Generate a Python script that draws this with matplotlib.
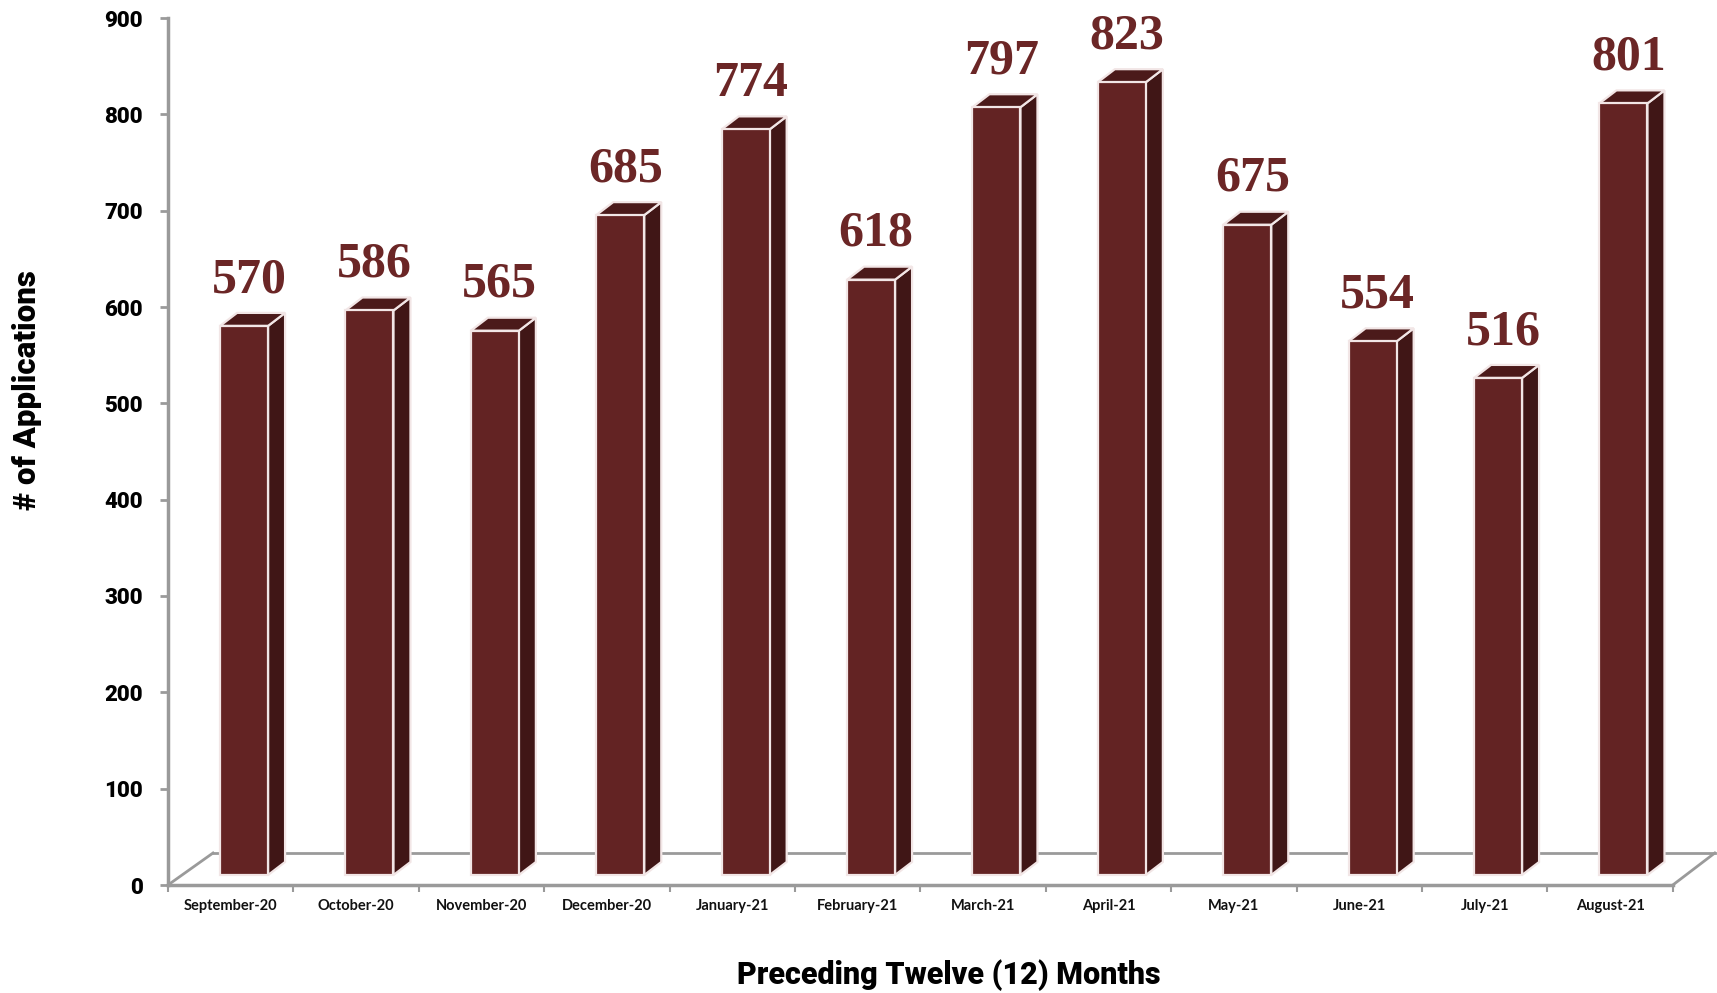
import numpy as np
import matplotlib
matplotlib.use("Agg")
import matplotlib.pyplot as plt
from matplotlib.patches import Polygon

months = ['September-20', 'October-20', 'November-20', 'December-20', 'January-21',
          'February-21', 'March-21', 'April-21', 'May-21', 'June-21', 'July-21', 'August-21']
applications = [570, 586, 565, 685, 774, 618, 797, 823, 675, 554, 516, 801]
yticks = [0, 100, 200, 300, 400, 500, 600, 700, 800, 900]

front_col = '#632323'
top_col = '#4b1a1a'
side_col = '#401616'
label_col = '#6b2626'
axis_col = '#9a9a9a'

W, H = 1717, 993
fig = plt.figure(figsize=(W / 100, H / 100), dpi=100)
# axes: x=0 at front-left floor corner (px 168), y=0 at px 885, y=900 at px 18
ax = fig.add_axes([168 / W, (H - 885) / H, (W - 168) / W, (885 - 18) / H])
cat_px = 125.4
ax.set_xlim(0, (W - 168) / cat_px)
ax.set_ylim(0, 900)
px_x = 1 / cat_px          # one pixel in x data units
px_y = 900 / (885 - 18)    # one pixel in y data units

# floor depth, bar offset inside the depth, bar depth
floor_dx, floor_dy = 45 * px_x, 32 * px_y
off_x, off_y = 0.415, 10 * px_y
bar_w = 0.383
bdx, bdy = 17 * px_x, 13 * px_y

n = len(months)
# floor (back wall line and diagonals)
ax.plot([floor_dx, n + 42 * px_x], [floor_dy, floor_dy], color=axis_col, lw=2, zorder=1, clip_on=False)
ax.plot([0, floor_dx], [0, floor_dy], color=axis_col, lw=2, zorder=1, clip_on=False)
ax.plot([n, n + 42 * px_x], [0, floor_dy], color=axis_col, lw=2, zorder=1, clip_on=False)
ax.plot([0, n], [0, 0], color=axis_col, lw=2.5, zorder=1, clip_on=False)
ax.plot([0, 0], [0, 900], color=axis_col, lw=2.5, zorder=1, clip_on=False)

edge = dict(edgecolor='#f2e6e6', linewidth=1.6, joinstyle='miter')
for i, v in enumerate(applications):
    x0 = i + off_x
    x1 = x0 + bar_w
    y0 = off_y
    y1 = off_y + v
    ax.bar(x0, v, width=bar_w, bottom=y0, align='edge', color=front_col, zorder=3, **edge)
    side = Polygon([(x1, y0), (x1 + bdx, y0 + bdy), (x1 + bdx, y1 + bdy), (x1, y1)],
                   closed=True, facecolor=side_col, zorder=2, **edge)
    top = Polygon([(x0, y1), (x1, y1), (x1 + bdx, y1 + bdy), (x0 + bdx, y1 + bdy)],
                  closed=True, facecolor=top_col, zorder=2, **edge)
    ax.add_patch(side)
    ax.add_patch(top)
    ax.annotate(str(v), xy=(x0 + bar_w / 2 + 5 * px_x, y1 + bdy), xytext=(0, 15),
                textcoords='offset points', ha='center', va='baseline',
                fontsize=36, fontweight='bold', family='Liberation Serif',
                color=label_col, annotation_clip=False)

for s in ax.spines.values():
    s.set_visible(False)

cond = dict(family='Roboto', fontweight=900)
ax.set_yticks(yticks)
ax.set_yticklabels([str(t) for t in yticks], fontsize=16, **cond)
ax.tick_params(axis='y', length=6, width=2, color=axis_col, pad=12)
ax.set_xticks(np.arange(0, n + 1))
ax.tick_params(axis='x', length=5, width=1.5, color=axis_col, labelbottom=False)
for i, m in enumerate(months):
    ax.text(i + 0.5, -14 * px_y, m, ha='center', va='top', fontsize=10.5,
            fontweight='bold', family='Lato', color='#111111')

fig.text(27 / W, 1 - 390 / H, '# of Applications', rotation=90, ha='center', va='center',
         fontsize=22.5, **cond)
fig.text(949 / W, 1 - 975 / H, 'Preceding Twelve (12) Months', ha='center', va='center',
         fontsize=22, **cond)

fig.savefig('out.png', dpi=100)
